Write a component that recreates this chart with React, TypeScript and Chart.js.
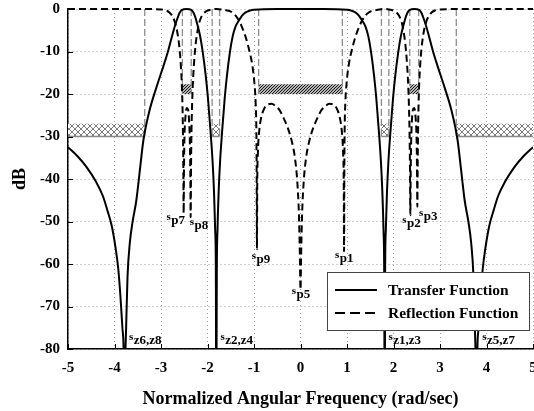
import React, { useEffect, useRef } from 'react';
import { Chart, registerables } from 'chart.js';

Chart.register(...registerables);

const FONT = '"Liberation Serif", "Times New Roman", serif';

const xTicks = [-5, -4, -3, -2, -1, 0, 1, 2, 3, 4, 5];
const yTicks = [0, -10, -20, -30, -40, -50, -60, -70, -80];

const legendLabels = ['Transfer Function', 'Reflection Function'];
const xTitle = 'Normalized Angular Frequency (rad/sec)';
const yTitle = 'dB';

// Transfer function |S21| in dB: [frequency, dB]
const transferPts: [number, number][] = [
  [-5, -32.5], [-4.8, -34.6], [-4.6, -37.2], [-4.4, -40.6], [-4.25, -44], [-4.15, -47.5],
  [-4.06, -51], [-3.98, -56], [-3.92, -61], [-3.87, -68], [-3.83, -75], [-3.8, -82],
  [-3.785, -100], [-3.77, -84], [-3.75, -75], [-3.72, -63], [-3.67, -55], [-3.61, -50],
  [-3.53, -45], [-3.45, -37.5], [-3.38, -31], [-3.25, -24], [-3.1, -18.5], [-2.95, -13.5],
  [-2.85, -10], [-2.76, -6.3], [-2.69, -3.6], [-2.64, -2], [-2.6, -0.9], [-2.55, -0.2],
  [-2.45, 0], [-2.35, -0.2], [-2.3, -0.9], [-2.26, -2], [-2.22, -3.6], [-2.16, -6.3],
  [-2.1, -10.3], [-2.04, -15.5], [-1.99, -21], [-1.94, -28], [-1.89, -36], [-1.86, -43],
  [-1.835, -52], [-1.82, -62], [-1.812, -100], [-1.8, -62], [-1.785, -52], [-1.76, -43],
  [-1.73, -36], [-1.68, -28], [-1.63, -21], [-1.58, -15.5], [-1.52, -10.3], [-1.46, -6.5],
  [-1.4, -4.2], [-1.33, -2.8], [-1.26, -1.6], [-1.18, -0.8], [-1.1, -0.4], [-1.0, -0.15],
  [-0.5, 0], [0, 0], [0.5, 0],
  [1.0, -0.15], [1.1, -0.4], [1.18, -0.8], [1.26, -1.6], [1.33, -2.8], [1.4, -4.2],
  [1.46, -6.5], [1.52, -10.3], [1.58, -15.5], [1.63, -21], [1.68, -28], [1.73, -36],
  [1.76, -43], [1.785, -52], [1.8, -62], [1.812, -100], [1.82, -62], [1.835, -52],
  [1.86, -43], [1.89, -36], [1.94, -28], [1.99, -21], [2.04, -15.5], [2.1, -10.3],
  [2.16, -6.3], [2.22, -3.6], [2.26, -2], [2.3, -0.9], [2.35, -0.2], [2.45, 0],
  [2.55, -0.2], [2.6, -0.9], [2.64, -2], [2.69, -3.6], [2.76, -6.3], [2.85, -10],
  [2.95, -13.5], [3.1, -18.5], [3.25, -24], [3.38, -31], [3.45, -37.5], [3.53, -45],
  [3.61, -50], [3.67, -55], [3.72, -63], [3.75, -75], [3.77, -84], [3.785, -100],
  [3.8, -82], [3.83, -75], [3.87, -68], [3.92, -61], [3.98, -56], [4.06, -51],
  [4.15, -47.5], [4.25, -44], [4.4, -40.6], [4.6, -37.2], [4.8, -34.6], [5, -32.5],
];

// Reflection function |S11| in dB: [frequency, dB]
const reflectionPts: [number, number][] = [
  [-5, 0], [-3.3, -0.02], [-3.0, -0.1], [-2.9, -0.3], [-2.82, -0.8], [-2.76, -1.6],
  [-2.71, -2.8], [-2.67, -4.3], [-2.63, -6.8], [-2.6, -9.5], [-2.575, -13], [-2.555, -17],
  [-2.54, -22], [-2.528, -29], [-2.52, -37], [-2.513, -48], [-2.505, -37], [-2.495, -30],
  [-2.475, -25.5], [-2.445, -23.3], [-2.415, -23.8], [-2.395, -26.5], [-2.38, -31],
  [-2.37, -38], [-2.362, -49], [-2.354, -37], [-2.345, -29], [-2.33, -22], [-2.31, -16.5],
  [-2.285, -12], [-2.255, -8.3], [-2.22, -5.5], [-2.18, -3.3], [-2.13, -1.8], [-2.07, -0.9],
  [-2.0, -0.4], [-1.9, -0.1], [-1.81, 0], [-1.7, -0.1], [-1.6, -0.3], [-1.52, -0.5],
  [-1.46, -0.9], [-1.4, -1.5], [-1.33, -2.6], [-1.26, -4.2], [-1.18, -6.6], [-1.1, -9.8],
  [-1.04, -13], [-0.995, -17], [-0.965, -22], [-0.95, -28], [-0.943, -38], [-0.937, -56.5],
  [-0.93, -41], [-0.915, -33.5], [-0.89, -29], [-0.85, -25.8], [-0.78, -23.4], [-0.7, -22.5],
  [-0.62, -22.3], [-0.54, -22.8], [-0.45, -23.8], [-0.37, -25.5], [-0.28, -27.8],
  [-0.19, -31], [-0.12, -35], [-0.07, -40.5], [-0.035, -48], [-0.015, -57], [0, -66],
  [0.015, -57], [0.035, -48], [0.07, -40.5], [0.12, -35], [0.19, -31], [0.28, -27.8],
  [0.37, -25.5], [0.45, -23.8], [0.54, -22.8], [0.62, -22.3], [0.7, -22.5], [0.78, -23.4],
  [0.85, -25.8], [0.89, -29], [0.915, -33.5], [0.93, -41], [0.937, -57], [0.943, -38],
  [0.95, -28], [0.965, -22], [0.995, -17], [1.04, -13], [1.1, -9.8], [1.18, -6.6],
  [1.26, -4.2], [1.33, -2.6], [1.4, -1.5], [1.46, -0.9], [1.52, -0.5], [1.6, -0.3],
  [1.7, -0.1], [1.81, 0], [1.9, -0.1], [2.0, -0.4], [2.07, -0.9], [2.13, -1.8],
  [2.18, -3.3], [2.22, -5.5], [2.255, -8.3], [2.285, -12], [2.31, -16.5], [2.33, -22],
  [2.345, -29], [2.354, -37], [2.362, -48.5], [2.37, -38], [2.38, -31], [2.395, -26.5],
  [2.415, -23.8], [2.445, -23.3], [2.475, -25.5], [2.495, -30], [2.505, -37], [2.513, -46.5],
  [2.52, -37], [2.528, -29], [2.54, -22], [2.555, -17], [2.575, -13], [2.6, -9.5],
  [2.63, -6.8], [2.67, -4.3], [2.71, -2.8], [2.76, -1.6], [2.82, -0.8], [2.9, -0.3],
  [3.0, -0.1], [3.3, -0.02], [5, 0],
];

// Mask band edges: [frequency, lower dB end of the vertical marker]
const maskEdges: [number, number][] = [
  [-3.35, -30], [-2.54, -20], [-2.35, -20], [-1.9, -30], [-1.74, -30], [-0.9, -20],
  [0.9, -20], [1.74, -30], [1.9, -30], [2.35, -20], [2.54, -20], [3.35, -30],
];

// Stopband (cross-hatched) and passband (diagonal hatched) mask regions
const stopbandMasks: [number, number][] = [[-5, -3.35], [-1.9, -1.74], [1.74, 1.9], [3.35, 5]];
const stopbandLevels = [-30, -27];
const passbandMasks: [number, number][] = [[-2.54, -2.35], [-0.9, 0.9], [2.35, 2.54]];
const passbandLevels = [-20, -17.7];

// Root annotations: s with subscript, anchored at [frequency, dB]
const rootNames = ['p7', 'p8', 'p9', 'z6,z8', 'z2,z4', 'p5', 'p1', 'p2', 'p3', 'z1,z3', 'z5,z7'];
const rootFreq = [-2.88, -2.38, -1.05, -3.69, -1.72, -0.19, 0.74, 2.19, 2.55, 1.89, 3.91];
const rootDb = [-50.6, -51.8, -59.8, -78.8, -78.8, -68.1, -59.5, -51.2, -49.6, -78.8, -78.8];

function makeCrossPattern(ctx: CanvasRenderingContext2D) {
  const c = document.createElement('canvas');
  c.width = 6; c.height = 6;
  const p = c.getContext('2d')!;
  p.fillStyle = '#ffffff';
  p.fillRect(0, 0, 6, 6);
  p.strokeStyle = '#7a7a7a';
  p.lineWidth = 1;
  p.beginPath();
  p.moveTo(0, 0); p.lineTo(6, 6);
  p.moveTo(0, 6); p.lineTo(6, 0);
  p.stroke();
  return ctx.createPattern(c, 'repeat')!;
}

function makeDiagPattern(ctx: CanvasRenderingContext2D) {
  const c = document.createElement('canvas');
  c.width = 3; c.height = 3;
  const p = c.getContext('2d')!;
  p.fillStyle = '#ffffff';
  p.fillRect(0, 0, 3, 3);
  p.strokeStyle = '#111';
  p.lineWidth = 1.2;
  p.beginPath();
  p.moveTo(-1, 4); p.lineTo(4, -1);
  p.moveTo(-1, 1); p.lineTo(1, -1);
  p.moveTo(2, 4); p.lineTo(4, 2);
  p.stroke();
  return ctx.createPattern(c, 'repeat')!;
}

const decorPlugin = {
  id: 'filterDecor',
  beforeDatasetsDraw(chart: any) {
    const { ctx, chartArea, scales } = chart;
    const xs = scales.x, ys = scales.y;
    ctx.save();
    ctx.beginPath();
    ctx.rect(chartArea.left, chartArea.top, chartArea.right - chartArea.left, chartArea.bottom - chartArea.top);
    ctx.clip();
    const cross = makeCrossPattern(ctx);
    const diag = makeDiagPattern(ctx);
    stopbandMasks.forEach(([a, b]) => {
      const x0 = xs.getPixelForValue(a), x1 = xs.getPixelForValue(b);
      const yb = ys.getPixelForValue(stopbandLevels[0]), yt = ys.getPixelForValue(stopbandLevels[1]);
      ctx.fillStyle = cross;
      ctx.fillRect(x0, yt, x1 - x0, yb - yt);
      ctx.strokeStyle = '#888';
      ctx.lineWidth = 1.5;
      ctx.beginPath();
      ctx.moveTo(x0, yb); ctx.lineTo(x1, yb);
      ctx.stroke();
    });
    passbandMasks.forEach(([a, b]) => {
      const x0 = xs.getPixelForValue(a), x1 = xs.getPixelForValue(b);
      const yb = ys.getPixelForValue(passbandLevels[0]), yt = ys.getPixelForValue(passbandLevels[1]);
      ctx.fillStyle = diag;
      ctx.fillRect(x0, yt, x1 - x0, yb - yt);
    });
    ctx.restore();
  },
  afterDatasetsDraw(chart: any) {
    const { ctx, chartArea, scales } = chart;
    const xs = scales.x, ys = scales.y;
    ctx.save();
    // inward tick marks
    ctx.strokeStyle = '#000';
    ctx.lineWidth = 1;
    ctx.beginPath();
    yTicks.forEach((v) => {
      const py = Math.round(ys.getPixelForValue(v)) + 0.5;
      ctx.moveTo(chartArea.left, py); ctx.lineTo(chartArea.left + 5, py);
    });
    xTicks.forEach((v) => {
      const px = Math.round(xs.getPixelForValue(v)) + 0.5;
      ctx.moveTo(px, chartArea.bottom); ctx.lineTo(px, chartArea.bottom - 5);
    });
    ctx.stroke();

    // root labels
    ctx.fillStyle = '#000';
    ctx.textAlign = 'left';
    ctx.textBaseline = 'alphabetic';
    rootNames.forEach((name, i) => {
      const px = xs.getPixelForValue(rootFreq[i]);
      const py = ys.getPixelForValue(rootDb[i]);
      ctx.font = `bold 11px ${FONT}`;
      ctx.fillText('s', px, py - 4);
      const w = ctx.measureText('s').width;
      ctx.font = `bold 13px ${FONT}`;
      ctx.fillText(name, px + w + 0.5, py);
    });

    // legend
    const bw = 202, bh = 58;
    const bx = chartArea.right - 4 - bw;
    const by = chartArea.bottom - 19 - bh;
    ctx.fillStyle = '#fff';
    ctx.fillRect(bx, by, bw, bh);
    ctx.strokeStyle = '#444';
    ctx.lineWidth = 1;
    ctx.strokeRect(bx + 0.5, by + 0.5, bw, bh);
    const rows = [by + 18, by + 41];
    ctx.strokeStyle = '#000';
    ctx.lineWidth = 2;
    ctx.beginPath();
    ctx.moveTo(bx + 8, rows[0]); ctx.lineTo(bx + 50, rows[0]);
    ctx.stroke();
    ctx.setLineDash([10, 5]);
    ctx.beginPath();
    ctx.moveTo(bx + 8, rows[1]); ctx.lineTo(bx + 50, rows[1]);
    ctx.stroke();
    ctx.setLineDash([]);
    ctx.fillStyle = '#000';
    ctx.font = `bold 15.5px ${FONT}`;
    ctx.textBaseline = 'middle';
    legendLabels.forEach((t, i) => ctx.fillText(t, bx + 61, rows[i] + 1));
    ctx.restore();
  },
};

export default function App() {
  const ref = useRef<HTMLCanvasElement | null>(null);
  useEffect(() => {
    if (!ref.current) return;
    const edgeData: any[] = [];
    maskEdges.forEach(([f, d]) => {
      edgeData.push({ x: f, y: 0 }, { x: f, y: d }, { x: f, y: null });
    });
    const chart = new Chart(ref.current, {
      type: 'line',
      data: {
        datasets: [
          {
            label: legendLabels[0],
            data: transferPts.map(([x, y]) => ({ x, y })),
            borderColor: '#000',
            borderWidth: 2,
            pointRadius: 0,
            cubicInterpolationMode: 'monotone',
            clip: { left: 0, top: 3, right: 0, bottom: 0 } as any,
            order: 1,
          },
          {
            label: legendLabels[1],
            data: reflectionPts.map(([x, y]) => ({ x, y })),
            borderColor: '#000',
            borderWidth: 2,
            borderDash: [7, 4],
            pointRadius: 0,
            cubicInterpolationMode: 'monotone',
            clip: { left: 0, top: 3, right: 0, bottom: 0 } as any,
            order: 2,
          },
          {
            label: 'mask edges',
            data: edgeData,
            borderColor: '#8c8c8c',
            borderWidth: 1.3,
            borderDash: [7, 3],
            pointRadius: 0,
            spanGaps: false,
            order: 3,
          },
        ],
      },
      options: {
        animation: false,
        responsive: false,
        devicePixelRatio: 1,
        layout: { padding: { left: 0, right: 1, top: 9, bottom: 0 } },
        plugins: { legend: { display: false }, tooltip: { enabled: false } },
        scales: {
          x: {
            type: 'linear',
            min: -5,
            max: 5,
            afterBuildTicks: (s: any) => { s.ticks = xTicks.map((v) => ({ value: v })); },
            afterFit: (s: any) => { s.height = 62; s.paddingLeft = 0; s.paddingRight = 0; },
            ticks: { color: '#000', font: { family: FONT, size: 15, weight: 'bold' }, padding: 10, maxRotation: 0 },
            grid: { color: '#a0a0a0', lineWidth: 1, drawTicks: false },
            border: { display: true, color: '#000', width: 1.5, dash: [1, 3] },
            title: { display: true, text: xTitle, color: '#000', font: { family: FONT, size: 18, weight: 'bold' }, padding: { top: 0, bottom: 1 } },
          },
          y: {
            type: 'linear',
            min: -80,
            max: 0,
            afterBuildTicks: (s: any) => { s.ticks = yTicks.map((v) => ({ value: v })); },
            afterFit: (s: any) => { s.width = 68; s.paddingTop = 0; s.paddingBottom = 0; },
            ticks: { color: '#000', font: { family: FONT, size: 15, weight: 'bold' }, padding: 8 },
            grid: { color: '#a0a0a0', lineWidth: 1, drawTicks: false },
            border: { display: true, color: '#000', width: 1.5, dash: [1, 3] },
            title: { display: true, text: yTitle, color: '#000', font: { family: FONT, size: 18, weight: 'bold' }, padding: { top: 10, bottom: 0 } },
          },
        },
      },
      plugins: [decorPlugin],
    } as any);
    return () => chart.destroy();
  }, []);
  return (
    <div style={{ position: 'absolute', left: 0, top: 0, width: 534, height: 411, background: '#fff' }}>
      <canvas ref={ref} width={534} height={411} style={{ display: 'block', width: 534, height: 411 }} />
    </div>
  );
}
